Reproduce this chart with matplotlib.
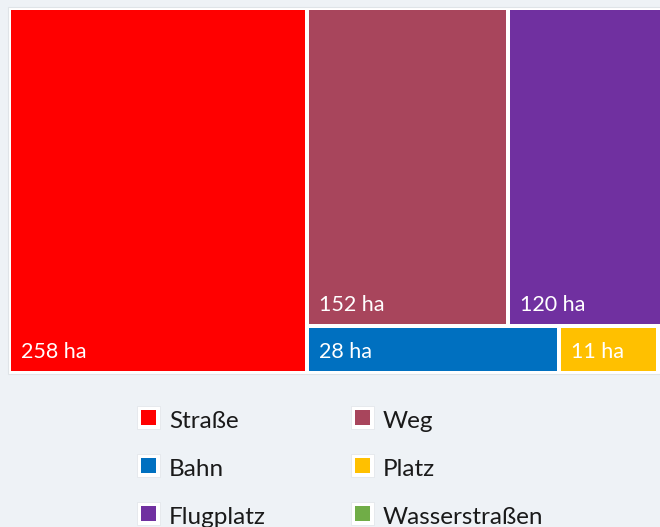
import matplotlib
matplotlib.use("Agg")
import matplotlib.pyplot as plt
from matplotlib.patches import Rectangle

# data (ha)
categories = ["Straße", "Weg", "Bahn", "Platz", "Flugplatz", "Wasserstraßen"]
values = [258, 152, 28, 11, 120, 1]
colors = ["#ff0000", "#a8455c", "#0070c0", "#ffc000", "#7030a0", "#70ad47"]
unit = "ha"

BG = "#eef2f6"
plt.rcParams['font.family'] = ['Lato', 'DejaVu Sans']


def worst(row, side):
    s = sum(row)
    return max(max(side ** 2 * r / s ** 2, s ** 2 / (side ** 2 * r)) for r in row)


def squarify(vals, x, y, w, h):
    # classic squarified treemap, vals sorted descending
    scale = w * h / sum(vals)
    areas = [v * scale for v in vals]
    rects = []
    while areas:
        side = min(w, h)
        row = [areas[0]]
        i = 1
        while i < len(areas) and worst(row + [areas[i]], side) <= worst(row, side):
            row.append(areas[i])
            i += 1
        thick = sum(row) / side
        if w >= h:
            yy = y
            for a in row:
                rects.append((x, yy, thick, a / thick))
                yy += a / thick
            x += thick
            w -= thick
        else:
            xx = x
            for a in row:
                rects.append((xx, y, a / thick, thick))
                xx += a / thick
            y += thick
            h -= thick
        areas = areas[i:]
    return rects


fig = plt.figure(figsize=(6.6, 5.27), dpi=100, facecolor=BG)
ax = fig.add_axes([0, 0, 1, 1])
ax.set_xlim(0, 660)
ax.set_ylim(527, 0)
ax.axis("off")
ax.set_facecolor(BG)

# white panel behind the treemap
ax.add_patch(Rectangle((8, 7), 700, 367, facecolor="white", edgecolor="#dfe4e8", lw=0.8))

order = sorted(range(len(values)), key=lambda i: -values[i])
rects = squarify([values[i] for i in order], 9, 8, 658, 365)
gap = 2
for idx, (x, y, w, h) in zip(order, rects):
    ax.add_patch(Rectangle((x + gap, y + gap), w - 2 * gap, h - 2 * gap,
                           facecolor=colors[idx], edgecolor="none"))
    if w > 40:
        ax.text(x + gap + 10, y + h - gap - 13, f"{values[idx]} {unit}",
                color="white", fontsize=15.5, va="baseline", ha="left")

# legend, two columns, row-wise
for i, (name, col) in enumerate(zip(categories, colors)):
    r, c = divmod(i, 2)
    cx = 148.5 + c * 214
    cy = 417.5 + r * 48
    ax.add_patch(Rectangle((cx - 11.5, cy - 11.5), 23, 23, facecolor="white",
                           edgecolor="#e3e7eb", lw=0.6))
    ax.add_patch(Rectangle((cx - 7.5, cy - 7.5), 15, 15, facecolor=col, edgecolor="none"))
    ax.text(cx + 20.5, cy + 10.5, name, fontsize=17.5, color="#1a1a1a",
            va="baseline", ha="left")

fig.savefig("out.png", dpi=100, facecolor=BG)
